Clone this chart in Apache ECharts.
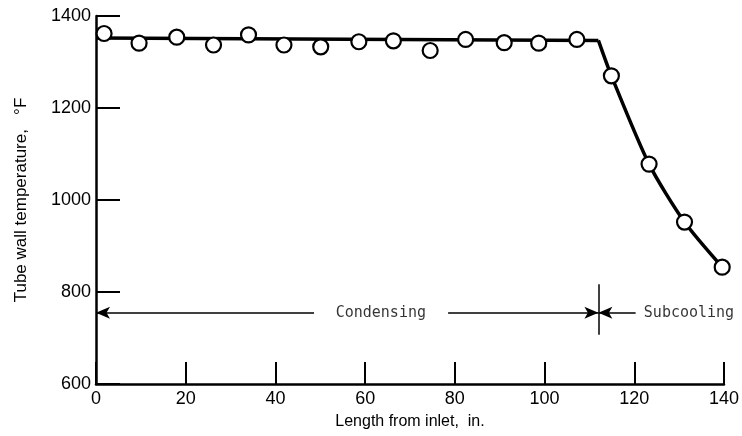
<!DOCTYPE html>
<html><head><meta charset="utf-8">
<script src="https://cdn.jsdelivr.net/npm/echarts@6/dist/echarts.min.js"></script>
<style>html,body{margin:0;padding:0;background:#fff}#c{width:742px;height:436px}</style>
</head><body><div id="c"></div>
<script>
// Measured data points (length in., temperature °F)
const lengthIn = [1.8, 9.6, 18.0, 26.2, 34.0, 41.9, 50.1, 58.6, 66.3, 74.5, 82.4, 91.0, 98.7, 107.2, 114.9, 123.3, 131.2, 139.6];
const tempF =    [1362, 1341, 1354, 1337, 1359, 1337, 1333, 1344, 1346, 1325, 1349, 1342, 1341, 1349, 1270, 1078, 952, 854];
// Faired curve: condensing plateau and subcooling drop
const flatX = [0, 112];
const flatY = [1352, 1347];
const dropX = [112, 114.9, 123.3, 131.2, 139.6];
const dropY = [1347, 1270, 1078, 952, 854];
// Annotation values
const xTicks = [0, 20, 40, 60, 80, 100, 120, 140];
const yTicks = [600, 800, 1000, 1200, 1400];
const regionBoundary = 112;
const arrowLevel = 755;
const condensingArrowLeft = [0, 48.6];
const condensingArrowRight = [78.5, 112];
const subcoolingArrow = [112, 120.3];
const dividerRange = [707, 817];
const labels = [{text: 'Condensing', x: 63.5}, {text: 'Subcooling', x: 132.2}];

const chart = echarts.init(document.getElementById('c'));
const tickFont = {fontFamily: 'Liberation Sans Narrow, sans-serif', fontSize: 18, color: '#000'};
const arrowStyle = {color: '#000', width: 1.5, type: 'solid'};
chart.setOption({
  animation: false,
  grid: {left: 96, right: 15, top: 16, bottom: 52},
  xAxis: {
    type: 'value', min: 0, max: 140, interval: 20,
    axisLine: {lineStyle: {color: '#000', width: 2.5}},
    axisTick: {inside: true, length: 22, lineStyle: {color: '#000', width: 2}},
    splitLine: {show: false},
    axisLabel: Object.assign({margin: 6, formatter: v => xTicks.includes(v) ? String(v) : ''}, tickFont),
    name: 'Length from inlet,  in.', nameLocation: 'middle', nameGap: 30,
    nameTextStyle: {fontFamily: 'Liberation Sans, sans-serif', fontSize: 16, color: '#000'}
  },
  yAxis: {
    type: 'value', min: 600, max: 1400, interval: 200,
    axisLine: {lineStyle: {color: '#000', width: 2.5}},
    axisTick: {inside: true, length: 24, lineStyle: {color: '#000', width: 2}},
    splitLine: {show: false},
    axisLabel: Object.assign({margin: 5, formatter: v => yTicks.includes(v) ? String(v) : ''}, tickFont),
    name: 'Tube wall temperature,   \u00B0F', nameLocation: 'middle', nameGap: 66,
    nameTextStyle: {fontFamily: 'Liberation Sans, sans-serif', fontSize: 17, color: '#000'}
  },
  series: [
    {
      type: 'line', data: flatX.map((x, i) => [x, flatY[i]]), symbol: 'none',
      lineStyle: {color: '#000', width: 3.5}, z: 2,
      markLine: {
        silent: true, symbolSize: [9, 14], precision: 3,
        label: {show: false},
        lineStyle: arrowStyle,
        data: [
          [{coord: [condensingArrowLeft[1], arrowLevel], symbol: 'none'}, {coord: [condensingArrowLeft[0], arrowLevel], symbol: 'arrow'}],
          [{coord: [condensingArrowRight[0], arrowLevel], symbol: 'none'}, {coord: [condensingArrowRight[1], arrowLevel], symbol: 'arrow'}],
          [{coord: [subcoolingArrow[1], arrowLevel], symbol: 'none'}, {coord: [subcoolingArrow[0], arrowLevel], symbol: 'arrow'}],
          [{coord: [regionBoundary, dividerRange[0]], symbol: 'none'}, {coord: [regionBoundary, dividerRange[1]], symbol: 'none'}]
        ]
      }
    },
    {
      type: 'line', data: dropX.map((x, i) => [x, dropY[i]]), symbol: 'none', smooth: 0.25,
      lineStyle: {color: '#000', width: 3.5}, z: 2
    },
    {
      type: 'scatter', data: lengthIn.map((x, i) => [x, tempF[i]]),
      symbol: 'circle', symbolSize: 15,
      itemStyle: {color: '#fff', borderColor: '#000', borderWidth: 2.2, opacity: 1}, z: 5
    },
    {
      type: 'scatter', symbolSize: 0, silent: true,
      data: labels.map(l => ({value: [l.x, arrowLevel], name: l.text})),
      label: {show: true, position: 'inside', formatter: p => p.name,
        fontFamily: 'DejaVu Sans Mono, monospace', fontSize: 15, color: '#000'}
    }
  ]
});
</script></body></html>
